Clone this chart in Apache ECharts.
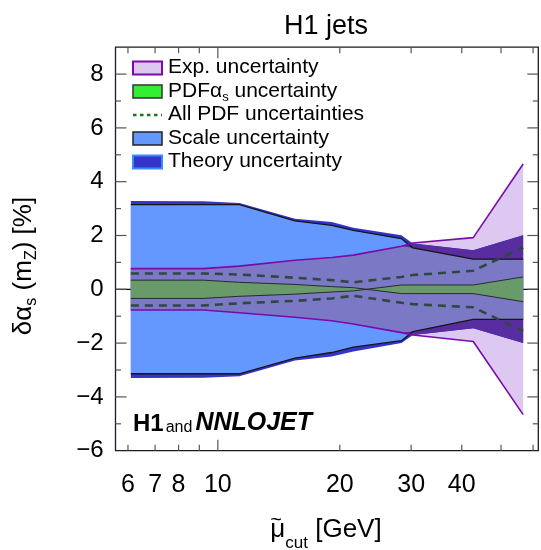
<!DOCTYPE html>
<html><head><meta charset="utf-8">
<script src="https://cdn.jsdelivr.net/npm/echarts@6/dist/echarts.min.js"></script>
<style>html,body{margin:0;padding:0;background:#fff}#c{width:541px;height:550px}</style>
</head><body><div id="c"></div>
<script>
// ---- data ----
const muCut    = [6.1, 9.2, 11.3, 15.5, 19.1, 21.6, 28.4, 30.3, 42.7, 56.7];
const expUp    = [0.77, 0.77, 0.86, 1.08, 1.18, 1.27, 1.60, 1.72, 1.92, 4.66];
const expLo    = [-0.77, -0.77, -0.87, -1.04, -1.17, -1.29, -1.61, -1.70, -1.94, -4.66];
const pdfUp    = [0.34, 0.34, 0.26, 0.18, 0.10, 0.06, -0.16, -0.16, -0.16, -0.46];
const pdfLo    = [-0.34, -0.34, -0.26, -0.18, -0.10, -0.06, 0.16, 0.16, 0.16, 0.46];
const allPdfUp = [0.59, 0.59, 0.55, 0.43, 0.34, 0.26, 0.46, 0.53, 0.69, 1.55];
const allPdfLo = [-0.60, -0.60, -0.52, -0.43, -0.34, -0.24, -0.50, -0.55, -0.67, -1.55];
const scaleUp  = [3.15, 3.15, 3.15, 2.54, 2.38, 2.19, 1.88, 1.54, 1.12, 1.12];
const scaleLo  = [-3.14, -3.14, -3.14, -2.56, -2.35, -2.15, -1.91, -1.57, -1.12, -1.12];
const theoUp   = [3.28, 3.27, 3.21, 2.62, 2.50, 2.29, 2.01, 1.70, 1.45, 2.01];
const theoLo   = [-3.30, -3.29, -3.23, -2.65, -2.50, -2.31, -2.00, -1.70, -1.45, -2.00];

const xTickValues = [6, 7, 8, 9, 10, 20, 30, 40, 50, 60];
const xTickLabels = [6, 7, 8, 10, 20, 30, 40];
const yTickValues = [-5, -4, -3, -2, -1, 0, 1, 2, 3, 4, 5, 6, 7, 8];
const legendNames = ['Exp. uncertainty', 'PDF\u03b1s uncertainty', 'All PDF uncertainties', 'Scale uncertainty', 'Theory uncertainty'];

// ---- derived overlaps (pointwise) ----
const expScaleUp = expUp.map((v, i) => Math.min(v, scaleUp[i]));
const expScaleLo = expLo.map((v, i) => Math.max(v, scaleLo[i]));
const expTheoUp  = expUp.map((v, i) => Math.min(v, theoUp[i]));
const expTheoLo  = expLo.map((v, i) => Math.max(v, theoLo[i]));

const X_MIN = 5.59, X_MAX = 61.8, Y_MIN = -6, Y_MAX = 9;
const FONT = '"Liberation Sans", Arial, sans-serif';

function band(name, up, lo, color, z) {
  return {
    type: 'custom', name: name, z: z, silent: true,
    data: [[muCut[0], up[0]]],
    renderItem: function (params, api) {
      const pts = [];
      for (let i = 0; i < muCut.length; i++) pts.push(api.coord([muCut[i], up[i]]));
      for (let j = muCut.length - 1; j >= 0; j--) pts.push(api.coord([muCut[j], lo[j]]));
      return { type: 'polygon', shape: { points: pts }, style: { fill: color, stroke: null } };
    }
  };
}
function edge(name, vals, color, width, dash, z) {
  return {
    type: 'line', name: name, z: z, silent: true, symbol: 'none',
    data: muCut.map((x, i) => [x, vals[i]]),
    lineStyle: { color: color, width: width, type: dash || 'solid' }
  };
}

const series = [
  { type: 'line', z: 1, silent: true, symbol: 'none', data: [[X_MIN, 0], [X_MAX, 0]], lineStyle: { color: '#000', width: 1.2 } },
  band('exp', expUp, expLo, '#dcc8f1', 2),
  band('theory', theoUp, theoLo, '#3434c9', 3),
  band('scale', scaleUp, scaleLo, '#6598ff', 4),
  band('expTheory', expTheoUp, expTheoLo, '#572da0', 5),
  band('expScale', expScaleUp, expScaleLo, '#7b78c6', 6),
  band('pdf', pdfUp, pdfLo, '#699a69', 7),
  edge('pdfU', pdfUp, '#2a2a2a', 1, null, 8),
  edge('pdfL', pdfLo, '#2a2a2a', 1, null, 8),
  edge('scU', scaleUp, '#151515', 1.3, null, 9),
  edge('scL', scaleLo, '#151515', 1.3, null, 9),
  edge('allU', allPdfUp, '#2f4840', 2.6, [8, 6], 9),
  edge('allL', allPdfLo, '#2f4840', 2.6, [8, 6], 9),
  edge('expU', expUp, '#7a0aaa', 1.6, null, 10),
  edge('expL', expLo, '#7a0aaa', 1.6, null, 10),
  { // x ticks (bottom & top)
    type: 'custom', z: 11, silent: true, clip: false,
    data: xTickValues.map(v => [v, Y_MIN]),
    renderItem: function (params, api) {
      const v = api.value(0);
      const b = api.coord([v, Y_MIN]), t = api.coord([v, Y_MAX]);
      const len = v === 10 ? 11 : 6;
      return { type: 'group', children: [
        { type: 'line', shape: { x1: b[0], y1: b[1], x2: b[0], y2: b[1] - len }, style: { stroke: '#555', lineWidth: 1.2 } },
        { type: 'line', shape: { x1: t[0], y1: t[1], x2: t[0], y2: t[1] + len }, style: { stroke: '#555', lineWidth: 1.2 } }
      ] };
    }
  },
  { // x tick labels
    type: 'custom', z: 11, silent: true, clip: false,
    data: xTickLabels.map(v => [v, Y_MIN]),
    renderItem: function (params, api) {
      const v = api.value(0);
      const b = api.coord([v, Y_MIN]);
      return { type: 'text', x: b[0], y: b[1] + 34, style: { text: String(v), font: '25px ' + FONT, fill: '#000', align: 'center', verticalAlign: 'middle' } };
    }
  },
  { // y ticks (left & right)
    type: 'custom', z: 11, silent: true, clip: false,
    data: yTickValues.map(v => [X_MIN, v]),
    renderItem: function (params, api) {
      const v = api.value(1);
      const l = api.coord([X_MIN, v]), r = api.coord([X_MAX, v]);
      const len = (v % 2 === 0) ? 11 : 5.5;
      return { type: 'group', children: [
        { type: 'line', shape: { x1: l[0], y1: l[1], x2: l[0] + len, y2: l[1] }, style: { stroke: '#555', lineWidth: 1.2 } },
        { type: 'line', shape: { x1: r[0], y1: r[1], x2: r[0] - len, y2: r[1] }, style: { stroke: '#555', lineWidth: 1.2 } }
      ] };
    }
  }
];

// ---- legend (graphic) ----
const rowY = [68, 91.5, 115, 138.5, 162];
const boxStyles = [
  { fill: '#dcc8f1', stroke: '#7a0aaa', lineWidth: 2 },
  { fill: '#33ee33', stroke: '#333', lineWidth: 1.5 },
  null,
  { fill: '#6598ff', stroke: '#222', lineWidth: 1.5 },
  { fill: '#3434c9', stroke: '#3a8bff', lineWidth: 2 }
];
const graphic = [];
rowY.forEach((y, i) => {
  if (boxStyles[i]) {
    graphic.push({ type: 'rect', shape: { x: 133, y: y - 6.5, width: 29, height: 13 }, style: boxStyles[i], z: 100 });
  } else {
    graphic.push({ type: 'line', shape: { x1: 133, y1: y, x2: 162, y2: y }, style: { stroke: '#127a12', lineWidth: 2.5, lineDash: [3.5, 3.5] }, z: 100 });
  }
});
const legendRich = {
  t: { font: '21px ' + FONT, fill: '#000', lineHeight: 21, verticalAlign: 'top' },
  s: { font: '13px ' + FONT, fill: '#000', lineHeight: 13, verticalAlign: 'top', padding: [10, 0, 0, 0] }
};
legendNames.forEach((name, i) => {
  let text = '{t|' + name + '}';
  if (name.indexOf('\u03b1s') >= 0) {
    const parts = name.split('\u03b1s');
    text = '{t|' + parts[0] + '\u03b1}{s|s}{t|' + parts[1] + '}';
  }
  graphic.push({ type: 'text', x: 168, y: rowY[i] - 11, z: 100, style: { text: text, rich: legendRich, align: 'left', verticalAlign: 'top' } });
});
// title
graphic.push({ type: 'text', x: 326, y: 27, z: 100, style: { text: 'H1 jets', font: '27px ' + FONT, fill: '#000', align: 'center', verticalAlign: 'middle' } });
// H1 and NNLOJET
graphic.push({ type: 'text', x: 133, y: 411, z: 100, style: {
  text: '{b|H1}{a|and}{bi|NNLOJET}',
  rich: {
    b: { font: 'bold 24px ' + FONT, fill: '#000', lineHeight: 25, verticalAlign: 'bottom' },
    a: { font: '16px ' + FONT, fill: '#000', lineHeight: 16, verticalAlign: 'bottom', padding: [0, 3, 0, 2] },
    bi: { font: 'italic bold 25px ' + FONT, fill: '#000', lineHeight: 25, verticalAlign: 'bottom' }
  }, align: 'left', verticalAlign: 'top' } });
// x axis name
graphic.push({ type: 'text', x: 326, y: 517, z: 100, style: {
  text: '{m|\u03bc}{s|cut}{m| [GeV]}',
  rich: {
    m: { font: '26px ' + FONT, fill: '#000', lineHeight: 26, verticalAlign: 'top' },
    s: { font: '17px ' + FONT, fill: '#000', lineHeight: 17, verticalAlign: 'top', padding: [18, 0, 0, 0] }
  }, align: 'center', verticalAlign: 'top' } });
graphic.push({ type: 'text', x: 276, y: 520, z: 100, style: { text: '~', font: '20px ' + FONT, fill: '#000', align: 'center', verticalAlign: 'middle' } });
// y axis name (rotated)
graphic.push({ type: 'text', x: 11, y: 266, rotation: Math.PI / 2, z: 100, style: {
  text: '{m|\u03b4\u03b1}{s|s}{m| (m}{s|Z}{m|) [%]}',
  rich: {
    m: { font: '26px ' + FONT, fill: '#000', lineHeight: 26, verticalAlign: 'top' },
    s: { font: '16px ' + FONT, fill: '#000', lineHeight: 16, verticalAlign: 'top', padding: [13, 0, 0, 0] }
  }, align: 'center', verticalAlign: 'top' } });

const chart = echarts.init(document.getElementById('c'), null, { renderer: 'canvas' });
chart.setOption({
  animation: false,
  backgroundColor: '#fff',
  grid: { left: 115.5, right: 2.7, top: 47.2, bottom: 99.3, show: true, borderColor: '#1a1a2a', borderWidth: 1.3, backgroundColor: 'transparent' },
  xAxis: { type: 'log', logBase: 10, min: X_MIN, max: X_MAX,
    axisLine: { show: false }, axisTick: { show: false }, axisLabel: { show: false }, splitLine: { show: false } },
  yAxis: { type: 'value', min: Y_MIN, max: Y_MAX, interval: 1,
    axisLine: { show: false }, axisTick: { show: false }, splitLine: { show: false },
    axisLabel: { margin: 12, color: '#000', fontSize: 24, fontFamily: FONT,
      formatter: function (v) { if (v % 2 !== 0 || v > 8) return ''; return v < 0 ? '\u2212' + (-v) : String(v); } } },
  series: series,
  graphic: graphic
});
</script></body></html>
